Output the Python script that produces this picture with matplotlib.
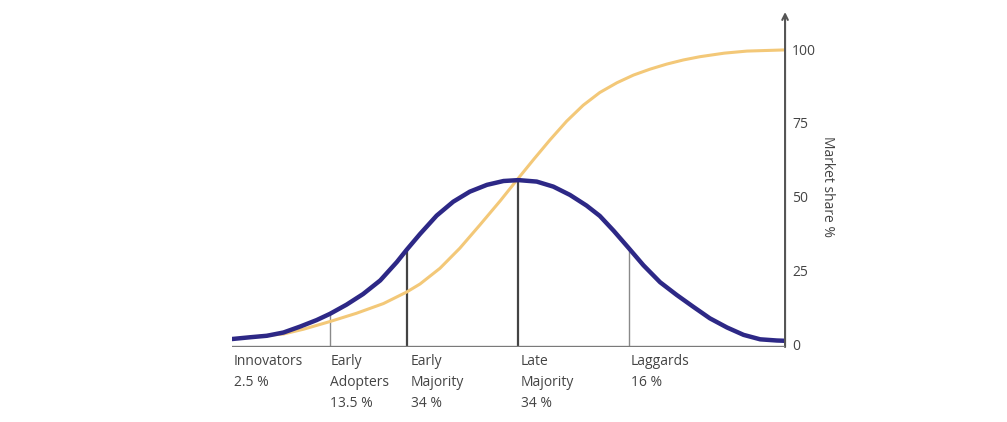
import numpy as np
import matplotlib.pyplot as plt

### Data ###
# time axis 0..100, values in market share %
bell_x = [0, 3.3, 6.3, 9.3, 12.3, 15.3, 17.7, 20.7, 23.7, 26.8, 29.8, 31.6, 34.0,
          37.0, 40.0, 43.0, 46.1, 49.1, 51.8, 55.1, 58.1, 61.1, 64.1, 66.5, 69.0,
          71.7, 74.4, 77.4, 80.4, 83.4, 86.4, 89.5, 92.5, 95.5, 98.5, 100]
bell_y = [2.0, 2.6, 3.1, 4.2, 6.2, 8.4, 10.5, 13.6, 17.2, 21.8, 28.0, 32.2, 37.5,
          43.7, 48.4, 51.8, 54.1, 55.4, 55.7, 55.2, 53.5, 50.7, 47.1, 43.6, 38.6,
          32.8, 26.9, 21.2, 16.9, 12.9, 9.0, 5.9, 3.4, 1.9, 1.5, 1.4]

s_x = [5, 9.3, 12.9, 17.7, 22.5, 27.4, 31.6, 34.0, 37.6, 41.2, 44.8, 48.5, 51.5,
       54.5, 57.5, 60.5, 63.5, 66.5, 69.6, 72.6, 75.6, 78.6, 81.6, 84.6, 89, 93.1, 100]
s_y = [3.0, 3.7, 5.3, 7.9, 10.7, 14.0, 17.9, 20.6, 25.9, 32.7, 40.5, 48.7, 55.7,
       62.6, 69.3, 75.6, 81.0, 85.3, 88.6, 91.2, 93.2, 94.9, 96.3, 97.4, 98.6, 99.3, 99.7]

bounds = [17.7, 31.6, 51.8, 71.7]
bound_lw = [1.0, 1.6, 1.6, 1.0]
bound_col = ['#8a8a8a', '#444444', '#444444', '#8a8a8a']

labels = ['Innovators\n2.5 %', 'Early\nAdopters\n13.5 %', 'Early\nMajority\n34 %',
          'Late\nMajority\n34 %', 'Laggards\n16 %']
label_x = [0.3, 17.8, 32.3, 52.2, 72.1]

yticks = [0, 25, 50, 75, 100]

### Plot ###
plt.rcParams['font.family'] = ['Open Sans', 'DejaVu Sans']
fig = plt.figure(figsize=(10.07, 4.22), dpi=100)
ax = fig.add_axes([0.2304, 0.1777, 0.5492, 0.7938])

ax.plot(s_x, s_y, color='#f3c878', lw=2.2, solid_capstyle='round',
        solid_joinstyle='round', zorder=2)
ax.plot(bell_x, bell_y, color='#2d2886', lw=3.2, solid_capstyle='round',
        solid_joinstyle='round', zorder=3)

for b, lw, c in zip(bounds, bound_lw, bound_col):
    ax.vlines(b, -0.7, np.interp(b, bell_x, bell_y), color=c, lw=lw, zorder=1)

ax.set_xlim(0, 100)
ax.set_ylim(-0.7, 112.5)
for sp in ax.spines.values():
    sp.set_visible(False)
ax.axhline(-0.7, color='#7a7a7a', lw=2.4, zorder=4)
ax.annotate('', xy=(1, 1), xytext=(1, 0), xycoords='axes fraction',
            arrowprops=dict(arrowstyle='->', color='#555555', lw=1.5,
                            shrinkA=0, shrinkB=0, mutation_scale=10))

ax.set_xticks([])
ax.yaxis.tick_right()
ax.set_yticks(yticks)
ax.set_yticklabels([str(t) for t in yticks])
ax.tick_params(axis='y', length=0, pad=5, labelsize=10, labelcolor='#444444')
ax.yaxis.set_label_position('right')
ax.set_ylabel('Market share %', rotation=270, labelpad=16, fontsize=10,
              color='#444444')
ax.yaxis.set_label_coords(1.09, 0.48)

for lx, txt in zip(label_x, labels):
    ax.text(lx, -3.0, txt, ha='left', va='top', fontsize=10, color='#444444',
            linespacing=1.55)

fig.savefig('out.png', dpi=100, facecolor='white')
